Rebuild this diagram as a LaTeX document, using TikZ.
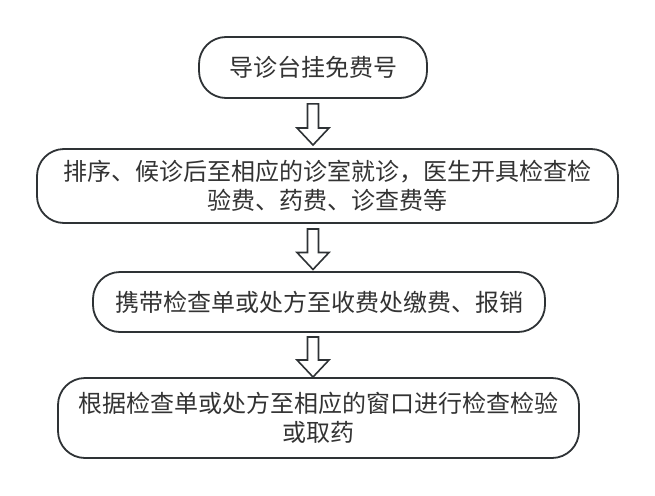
\documentclass[tikz,border=0pt]{standalone}
\usepackage{fontspec}
\setmainfont{Noto Sans CJK SC}
\usetikzlibrary{calc}
\definecolor{linec}{HTML}{2E3235}
\definecolor{textc}{HTML}{333333}
\tikzset{
  flowbox/.style={draw=linec, line width=1.8pt, rounded corners=27pt, fill=white,
    text=textc, align=center, inner sep=0pt,
    font=\fontsize{24pt}{29pt}\selectfont},
  blockarr/.style={draw=linec, line width=1.6pt, fill=white, line join=miter}
}
\newcommand{\myblockarrow}[2]{%
  \draw[blockarr] ($(#1)+(-5.5,0)$) -- ($(#2)+(-5.5,-17)$) -- ($(#2)+(-16,-17)$)
    -- (#2) -- ($(#2)+(16,-17)$) -- ($(#2)+(5.5,-17)$) -- ($(#1)+(5.5,0)$) -- cycle;}
\begin{document}
\begin{tikzpicture}[x=1pt,y=-1pt]
\useasboundingbox (0,0) rectangle (655,495);
\node[flowbox, minimum width=228pt, minimum height=61pt] (b1) at (313,67.5) {导诊台挂免费号};
\node[flowbox, minimum width=581pt, minimum height=74pt] (b2) at (327.5,186) {排序、候诊后至相应的诊室就诊，医生开具检查检\\验费、药费、诊查费等};
\node[flowbox, minimum width=452pt, minimum height=60pt] (b3) at (319,302) {携带检查单或处方至收费处缴费、报销};
\node[flowbox, minimum width=521pt, minimum height=80pt] (b4) at (318.5,418) {根据检查单或处方至相应的窗口进行检查检验\\或取药};
\coordinate (a1t) at ($(b1.south)+(0,5)$);
\coordinate (a1b) at (313,145);
\coordinate (a2t) at (313,229);
\coordinate (a2b) at (313,269.5);
\coordinate (a3t) at (313,337);
\coordinate (a3b) at (313,377);
\myblockarrow{a1t}{a1b}
\myblockarrow{a2t}{a2b}
\myblockarrow{a3t}{a3b}
\end{tikzpicture}
\end{document}
